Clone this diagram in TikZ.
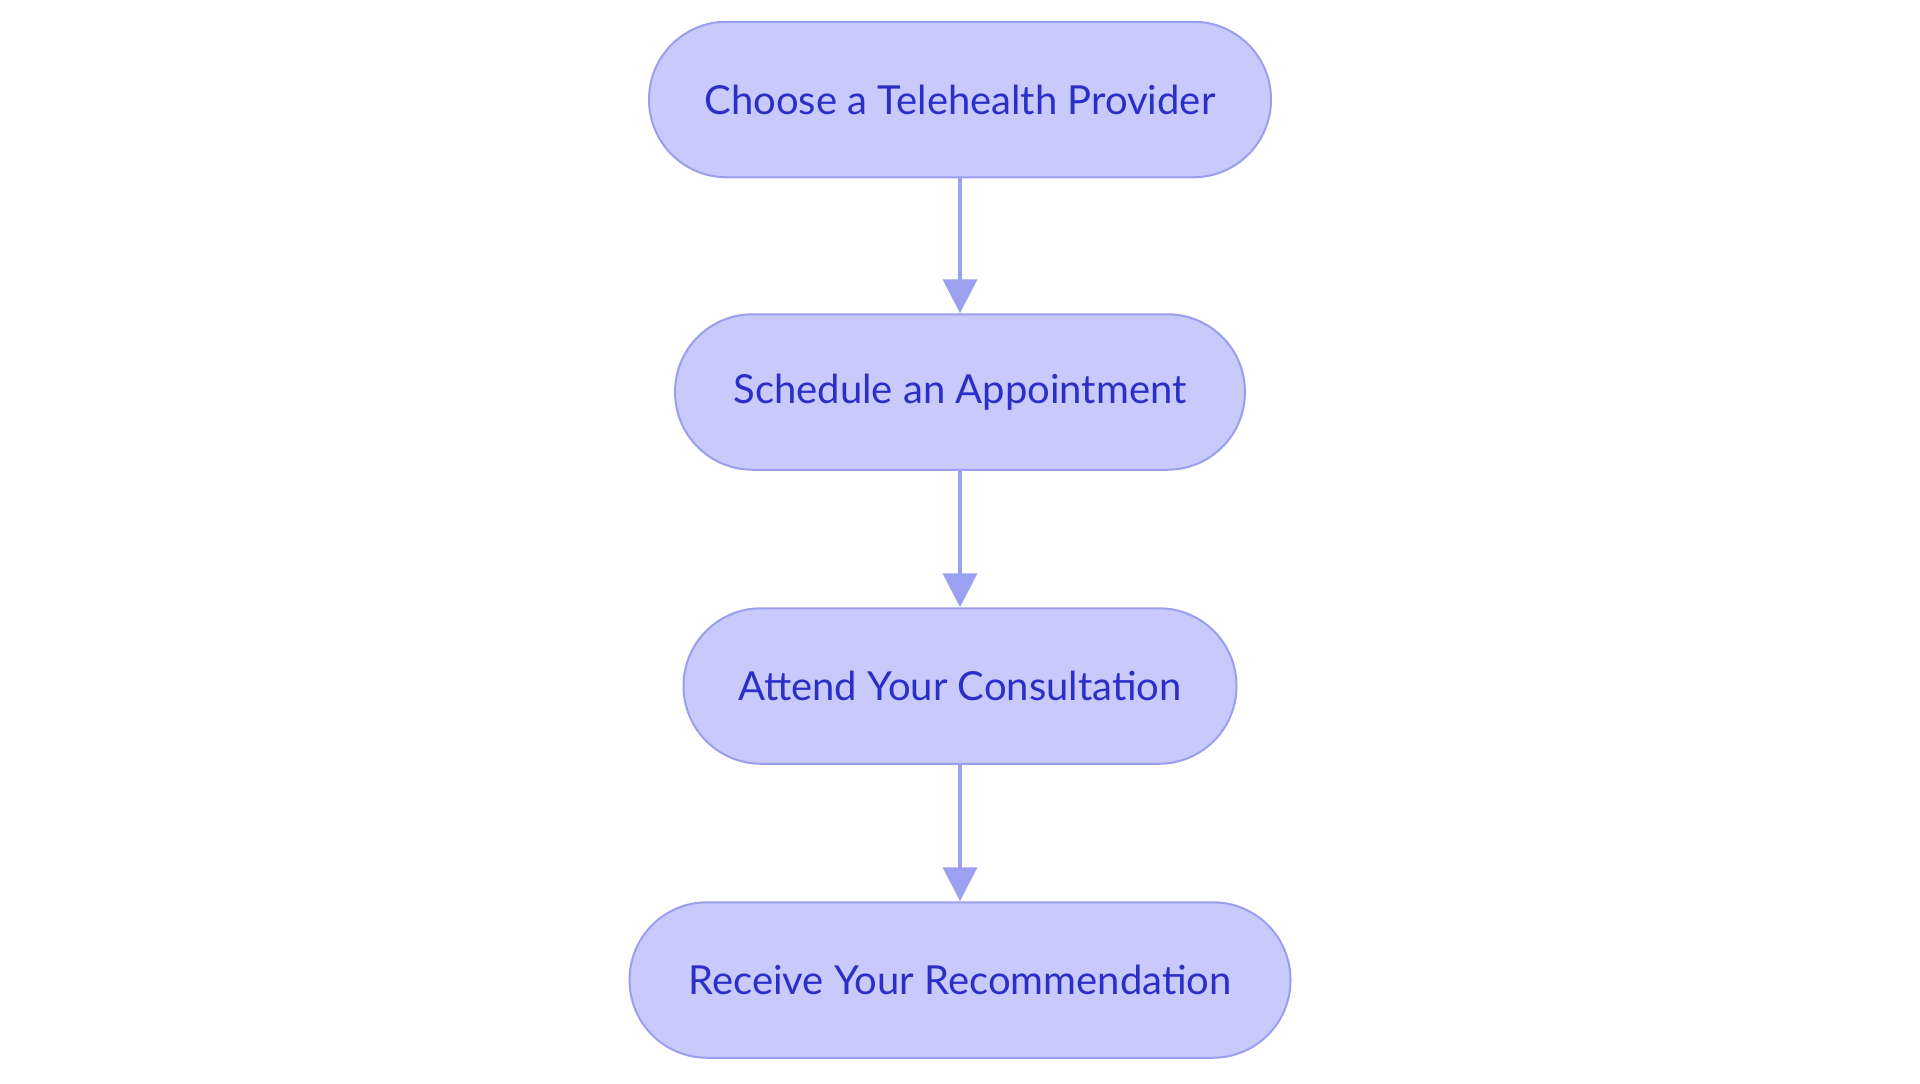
\documentclass[tikz,border=0pt]{standalone}
\usepackage{fontspec}
\setmainfont{Lato}
\usetikzlibrary{arrows.meta}
\definecolor{nodefill}{HTML}{C9CAFC}
\definecolor{nodeline}{HTML}{9A9EEE}
\definecolor{nodetext}{HTML}{2B2FC8}
\definecolor{arrowcol}{HTML}{9BA0F0}
\tikzset{
  stepbox/.style={draw=nodeline, line width=1pt, fill=nodefill, text=nodetext,
    rectangle, rounded corners=38.8pt, minimum height=77.75pt,
    font=\fontsize{20}{24}\selectfont, inner sep=0pt},
  flow/.style={draw=arrowcol, line width=2pt, -{Triangle[length=17pt,width=17pt]}}
}
\begin{document}
\begin{tikzpicture}[x=0.5pt,y=-0.5pt]
\useasboundingbox (0,0) rectangle (1920,1083);
\node[stepbox, minimum width=311pt] (a) at (960,99.5) {Choose a Telehealth Provider};
\node[stepbox, minimum width=285pt] (b) at (960,392) {Schedule an Appointment};
\node[stepbox, minimum width=276.5pt] (c) at (960,686) {Attend Your Consultation};
\node[stepbox, minimum width=330.5pt] (d) at (960,980) {Receive Your Recommendation};
\draw[flow] (a) -- (b);
\draw[flow] (b) -- (c);
\draw[flow] (c) -- (d);
\end{tikzpicture}
\end{document}
